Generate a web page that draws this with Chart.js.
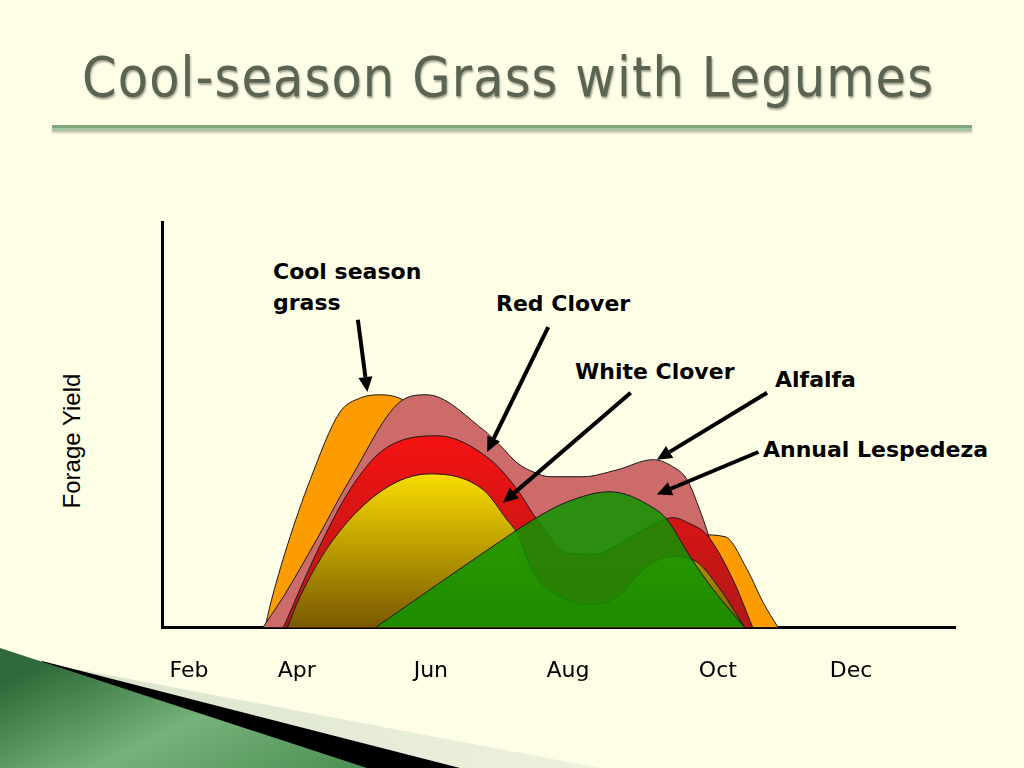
<!DOCTYPE html>
<html>
<head>
<meta charset="utf-8">
<title>Cool-season Grass with Legumes</title>
<script src="https://cdn.jsdelivr.net/npm/chart.js@4"></script>
<style>
  html, body { margin: 0; padding: 0; }
  body { width: 1024px; height: 768px; background: #fefee6; position: relative; overflow: hidden; }
  #deco { position: absolute; left: 0; top: 0; }
  #grafico { position: absolute; left: 0; top: 0; }
  .titulo {
    position: absolute; left: 82px; top: 50px; margin: 0;
    font: 55px/55px "DejaVu Sans Condensed", "DejaVu Sans", sans-serif;
    color: #5a6450; letter-spacing: 1.15px; white-space: nowrap;
    text-shadow: 1px 2px 2px rgba(0,0,0,0.35);
  }
  .linha {
    position: absolute; left: 52px; top: 125px; width: 920px; height: 0;
    border-top: 3px solid #7ea67b; border-bottom: 3px solid #a9c7a2;
    box-shadow: 0 2px 2px rgba(0,0,0,0.2);
  }
  .eixoY {
    position: absolute; left: 72px; top: 441px;
    transform: translate(-50%, -50%) rotate(-90deg);
    font: 24px "Liberation Sans", Arial, sans-serif; color: #000; white-space: nowrap;
  }
  .rotulo {
    position: absolute; font: bold 22px/26px "DejaVu Sans", sans-serif; color: #000; white-space: nowrap;
  }
</style>
</head>
<body>
<svg id="deco" width="1024" height="768">
  <defs>
    <linearGradient id="faixa" x1="0" y1="0" x2="1" y2="0">
      <stop offset="0" stop-color="#d9e2cc"/>
      <stop offset="1" stop-color="#eef2dd"/>
    </linearGradient>
    <linearGradient id="verde" x1="0" y1="0.3" x2="1" y2="1">
      <stop offset="0" stop-color="#2d6a37"/>
      <stop offset="0.5" stop-color="#76b27b"/>
      <stop offset="1" stop-color="#4a8f54"/>
    </linearGradient>
  </defs>
  <polygon points="55,665 600,768 0,768" fill="url(#faixa)"/>
  <polygon points="42,661 460,768 0,768" fill="#000"/>
  <polygon points="0,648 367,768 0,768" fill="url(#verde)"/>
</svg>

<h1 class="titulo">Cool-season Grass with Legumes</h1>
<div class="linha"></div>
<div class="eixoY">Forage Yield</div>

<div class="rotulo" style="left:273px; top:256px; line-height:31px;">Cool season<br>grass</div>
<div class="rotulo" style="left:496px; top:291px;">Red Clover</div>
<div class="rotulo" style="left:575px; top:359px;">White Clover</div>
<div class="rotulo" style="left:775px; top:367px;">Alfalfa</div>
<div class="rotulo" style="left:763px; top:437px;">Annual Lespedeza</div>

<canvas id="grafico" width="1024" height="768"></canvas>

<script>
// eixo x em "% da estação" (0 = canto esquerdo, 100 = fim do eixo)
const tickLabels = ["Feb", "Apr", "Jun", "Aug", "Oct", "Dec"];
const tickPositions = [3.4, 17.0, 33.9, 51.2, 70.1, 86.9];

// curvas de produção [x, y]
const coolSeasonGrass = [
  [13.0, 0], [13.6, 5.2], [15.8, 20.2], [18.7, 36.5], [22.4, 53.0], [25.0, 56.6], [27.5, 57.4],
  [31.3, 54.9], [36.3, 41.4], [42.6, 29.1], [50.2, 20.4], [60.3, 18.0],
  [67.8, 22.9], [71.0, 22.4], [73.8, 14.3], [75.8, 6.2], [77.7, 0]
];
const alfalfa = [
  [12.7, 0], [15.3, 7.6], [19.5, 21.7], [23.7, 36.5], [30.4, 56.2], [33.4, 57.4],
  [40.5, 48.8], [42.6, 45.0], [44.8, 40.6], [46.8, 38.4], [48.9, 37.2], [53.1, 37.2],
  [57.4, 38.9], [61.9, 41.4], [64.4, 39.7], [66.2, 36.5], [67.8, 29.1], [68.7, 24.1],
  [71.0, 9.4], [73.5, 0]
];
const redClover = [
  [15.3, 0], [19.5, 18.5], [23.7, 34.0], [27.9, 43.8], [34.7, 47.3], [41.4, 41.4],
  [44.8, 34.0], [47.3, 26.6], [51.1, 18.5], [54.4, 18.0], [58.6, 21.7], [62.4, 25.9],
  [64.4, 27.1], [66.6, 25.6], [68.7, 22.9], [72.0, 11.8], [74.5, 0]
];
const whiteClover = [
  [15.8, 0], [17.4, 7.6], [21.6, 21.7], [27.9, 34.0], [33.8, 37.9], [40.5, 34.0],
  [43.5, 26.6], [44.8, 23.2], [46.8, 13.5], [51.1, 6.9], [54.0, 5.7], [57.4, 7.6],
  [60.7, 14.3], [64.1, 17.5], [67.0, 16.7], [70.4, 9.4], [73.5, 0]
];
const annualLespedeza = [
  [26.9, 0], [42.6, 21.2], [46.8, 26.6], [51.1, 31.0], [56.5, 33.5], [61.9, 29.6],
  [63.7, 26.6], [66.6, 17.5], [69.5, 9.4], [73.5, 0]
];

// setas dos rótulos: [x inicio, y inicio, x ponta, y ponta]
const setas = [
  [24.7, 75.9, 25.9, 58.1],
  [48.7, 74.1, 41.0, 43.3],
  [59.1, 57.9, 43.0, 30.8],
  [76.3, 57.9, 62.4, 41.4],
  [75.2, 43.3, 62.4, 32.8]
];

function pontos(lista) {
  return lista.map(p => ({ x: p[0], y: p[1] }));
}

function maxY(lista) {
  return Math.max(...lista.map(p => p[1]));
}

// degradê vertical do pico da curva até a base
function degrade(lista, corTopo, corBase) {
  return function (ctx) {
    const chart = ctx.chart;
    const area = chart.chartArea;
    if (!area) return corTopo;
    const topo = chart.scales.y.getPixelForValue(maxY(lista));
    const g = chart.ctx.createLinearGradient(0, topo, 0, area.bottom);
    g.addColorStop(0, corTopo);
    g.addColorStop(1, corBase);
    return g;
  };
}

const pluginSetas = {
  id: "setas",
  afterDatasetsDraw(chart) {
    const ctx = chart.ctx;
    const sx = chart.scales.x, sy = chart.scales.y;
    ctx.save();
    ctx.strokeStyle = "#000";
    ctx.fillStyle = "#000";
    ctx.lineWidth = 4;
    setas.forEach(s => {
      const x1 = sx.getPixelForValue(s[0]), y1 = sy.getPixelForValue(s[1]);
      const x2 = sx.getPixelForValue(s[2]), y2 = sy.getPixelForValue(s[3]);
      const ang = Math.atan2(y2 - y1, x2 - x1);
      const tam = 15, larg = 7;
      const bx = x2 - tam * Math.cos(ang), by = y2 - tam * Math.sin(ang);
      ctx.beginPath();
      ctx.moveTo(x1, y1);
      ctx.lineTo(bx, by);
      ctx.stroke();
      ctx.beginPath();
      ctx.moveTo(x2, y2);
      ctx.lineTo(bx + larg * Math.sin(ang), by - larg * Math.cos(ang));
      ctx.lineTo(bx - larg * Math.sin(ang), by + larg * Math.cos(ang));
      ctx.closePath();
      ctx.fill();
    });
    ctx.restore();
  }
};

function serie(nome, lista, cor, ordem) {
  return {
    label: nome,
    data: pontos(lista),
    backgroundColor: cor,
    borderColor: "#1a1a1a",
    borderWidth: 1,
    pointRadius: 0,
    fill: "origin",
    cubicInterpolationMode: "monotone",
    order: ordem
  };
}

function inicializarGrafico() {
  const ctx = document.getElementById("grafico").getContext("2d");

  new Chart(ctx, {
    type: "line",
    data: {
      datasets: [
        serie("Annual Lespedeza", annualLespedeza, "rgba(14,148,0,0.85)", 1),
        serie("White Clover", whiteClover, degrade(whiteClover, "#f8dc00", "#7a5900"), 2),
        serie("Red Clover", redClover, degrade(redClover, "#f51212", "#b01818"), 3),
        serie("Alfalfa", alfalfa, "#cd6b6b", 4),
        serie("Cool season grass", coolSeasonGrass, "#fd9c00", 5)
      ]
    },
    options: {
      responsive: false,
      animation: false,
      devicePixelRatio: 1,
      layout: { padding: { left: 162, right: 69, top: 222, bottom: 54 } },
      plugins: {
        legend: { display: false },
        tooltip: { enabled: false }
      },
      scales: {
        x: {
          type: "linear",
          min: 0,
          max: 100,
          afterBuildTicks: scale => {
            scale.ticks = tickPositions.map(v => ({ value: v }));
          },
          ticks: {
            autoSkip: false,
            maxRotation: 0,
            padding: 30,
            color: "#000",
            font: { family: "DejaVu Sans", size: 22 },
            callback: (valor, i) => tickLabels[i]
          },
          grid: { color: "transparent", drawTicks: false },
          border: { color: "#000", width: 3 }
        },
        y: {
          min: 0,
          max: 100,
          ticks: { display: false },
          grid: { color: "transparent", drawTicks: false },
          border: { color: "#000", width: 3 }
        }
      }
    },
    plugins: [pluginSetas]
  });
}

document.addEventListener("DOMContentLoaded", inicializarGrafico);
</script>
</body>
</html>
